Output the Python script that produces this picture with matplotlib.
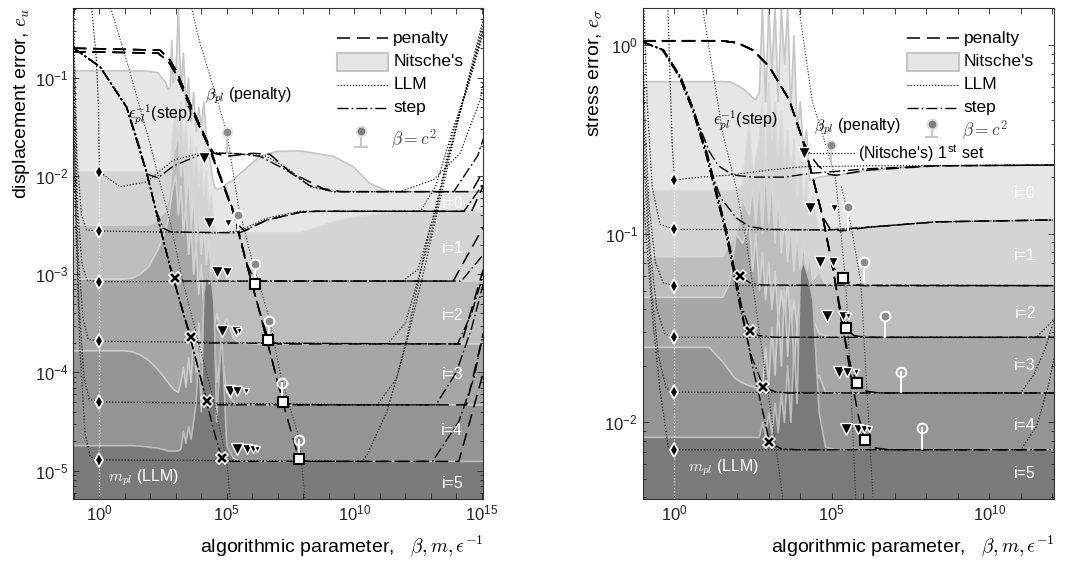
import numpy as np
import matplotlib
matplotlib.use("Agg")
import matplotlib.pyplot as plt
from matplotlib.ticker import FixedLocator, NullFormatter, LogLocator
from matplotlib.patches import Rectangle
from matplotlib.lines import Line2D

plt.rcParams['font.family'] = ['Liberation Sans', 'DejaVu Sans']
plt.rcParams['mathtext.fontset'] = 'cm'

# =====================  DATA (all values are log10)  =====================
# ---------- left panel: displacement error ----------
u_xlim = (-1.02, 15.06)
u_ylim = (-5.288, -0.294)

u_nit_x = [-1.02, 0.0, 1.0, 1.3, 1.6, 1.95, 2.3, 2.6, 2.7, 2.78, 2.84, 2.9, 3.0, 3.1, 3.2, 3.3, 3.4, 3.5,
           3.6, 3.7, 3.8, 3.9, 4.0, 4.1, 4.2, 4.3, 4.4, 4.5, 4.6, 4.8, 5.0, 5.25, 5.5, 6.3, 6.96, 7.9,
           9.18, 9.96, 10.6, 11.27, 11.8, 15.06]
u_nit0 = [-0.93, -0.93, -0.93, -0.93, -0.93, -0.935, -0.95, -1.05, -1.12, -1.1, -0.62, -1.05, -0.98, -0.29,
          -1.1, -0.75, -1.3, -1.0, -1.45, -1.15, -1.55, -1.3, -1.5, -1.25, -1.6, -1.75, -1.95, -2.1, -2.14,
          -2.12, -2.08, -2.04, -1.98, -1.80, -1.75, -1.746, -1.80, -1.906, -2.075, -2.15, -2.16, -2.16]
u_nit1 = [-1.96] * 8 + [-1.93, -1.85, -1.7, -1.5, -1.3, -1.6, -1.25, -1.7, -1.45, -1.9, -1.6, -2.0, -1.7,
                        -2.1, -1.85, -2.2, -1.95, -2.35, -2.2, -2.5,
                        -2.58, -2.58, -2.58, -2.58, -2.58, -2.58, -2.58, -2.58, -2.47, -2.42, -2.40, -2.38,
                        -2.37, -2.36]
u_nit2 = [-2.5, -2.5, -2.5, -2.5, -2.5, -2.5, -2.45, -2.35, -2.25, -2.1, -1.95, -1.8, -1.7, -1.55, -2.0,
          -1.75, -2.3, -1.95, -2.5, -2.2, -2.7, -2.35, -2.8, -2.5, -2.9, -2.65, -3.0, -2.8, -3.03, -2.85,
          -3.05, -3.06, -3.07] + [-3.07] * 9
u_nit3 = [-3.05, -3.05, -3.05, -3.04, -3.0, -2.92, -2.75, -2.55, -2.45, -2.3, -2.2, -2.1, -2.0, -2.4, -2.1,
          -2.6, -2.3, -2.8, -2.5, -3.0, -2.7, -3.2, -2.9, -3.35, -3.1, -3.45, -3.25, -3.55, -3.4, -3.6,
          -3.45, -3.65, -3.70] + [-3.71] * 9
u_nit4 = [-3.78, -3.78, -3.78, -3.79, -3.82, -3.88, -3.97, -4.07, -4.1, -4.13, -4.15, -4.17, -4.19, -4.2,
          -4.1, -3.95, -4.15, -3.85, -4.1, -3.6, -4.0, -3.5, -3.9, -3.3, -3.8, -3.4, -3.95, -3.6, -4.1,
          -3.8, -4.2, -4.3, -4.33] + [-4.33] * 9
u_nit5 = [-4.745, -4.745, -4.745, -4.745, -4.75, -4.76, -4.77, -4.79, -4.8, -4.8, -4.8, -4.8, -4.8, -4.8,
          -4.78, -4.6, -4.72, -4.55, -4.68, -4.5, -4.3, -3.8, -4.4, -3.2, -3.0, -3.1, -3.05, -3.3, -4.5,
          -3.6, -4.75, -4.87, -4.9] + [-4.905] * 9

u_llm_x = [[-0.3, -0.12, -0.03, 0.0, 0.81, 1.86, 2.9, 4.08, 5.25, 6.56, 7.48, 8.26, 9.18, 11.8, 13.1, 14.15, 14.93, 15.06],
           [-1.0, -0.97, -0.88, -0.7, -0.5, 0.0, 4.6, 5.5, 6.56, 7.87, 8.5, 12.6, 13.2, 13.9, 14.5, 15.06],
           [-1.02, -0.96, -0.86, -0.68, -0.48, 0.0, 11.9, 12.5, 13.2, 13.83, 14.47, 15.06],
           [-1.02, -0.94, -0.83, -0.64, -0.44, 0.0, 11.3, 12.0, 12.43, 13.0, 13.6, 14.3, 15.06],
           [-1.02, -0.92, -0.8, -0.6, -0.4, 0.0, 10.9, 11.66, 12.05, 12.8, 13.5, 14.2, 15.06],
           [-1.02, -0.89, -0.76, -0.56, -0.36, 0.0, 10.3, 10.5, 11.28, 12.0, 12.7, 13.4, 14.1, 15.06]]
u_llm_y = [[-0.29, -0.8, -1.3, -1.957, -2.11, -2.06, -1.84, -1.76, -1.77, -1.80, -1.94, -2.11, -2.16, -2.16, -2.04, -1.77, -1.23, -1.05],
           [-0.3, -0.8, -1.8, -2.4, -2.55, -2.56, -2.58, -2.56, -2.43, -2.36, -2.36, -2.36, -2.1, -1.5, -1.05, -0.52],
           [-0.6, -1.3, -2.3, -2.9, -3.06, -3.076, -3.07, -2.95, -2.33, -1.59, -1.08, -0.55],
           [-1.0, -1.8, -2.8, -3.45, -3.66, -3.683, -3.71, -3.5, -3.12, -2.6, -1.9, -1.2, -0.5],
           [-1.3, -2.3, -3.3, -4.05, -4.27, -4.30, -4.33, -4.06, -3.66, -2.72, -2.0, -1.3, -0.45],
           [-1.6, -2.75, -3.77, -4.62, -4.86, -4.89, -4.905, -4.84, -4.4, -3.75, -3.0, -2.2, -1.4, -0.4]]

u_step_x = [[-1.02, -0.89, 0.03, 1.07, 1.6, 1.86, 2.3, 2.9, 4.08, 5.25, 6.3, 7.4, 8.26, 9.18, 13.9, 14.85, 15.06],
            [-1.02, -0.89, 0.03, 1.07, 1.86, 2.2, 2.5, 2.8, 5.5, 6.56, 7.87, 8.5, 14.3, 15.06],
            [-1.02, -0.89, 0.03, 1.07, 1.86, 2.38, 2.77, 2.97, 3.3, 14.2, 15.06],
            [-1.02, -0.89, 0.03, 1.07, 1.86, 2.38, 2.77, 3.1, 3.3, 3.6, 3.9, 14.05, 14.6, 15.06],
            [-1.02, -0.89, 0.03, 1.07, 1.86, 2.38, 2.77, 3.1, 3.3, 3.6, 3.9, 4.21, 4.5, 13.2, 14.0, 14.6, 15.06],
            [-1.02, -0.89, 0.03, 1.07, 1.86, 2.38, 2.77, 3.1, 3.3, 3.6, 3.9, 4.21, 4.5, 4.8, 5.1, 13.07, 14.1, 14.7, 15.06]]
u_step_y = [[-0.70, -0.72, -0.89, -1.30, -1.72, -1.98, -2.02, -1.9, -1.77, -1.77, -1.80, -1.95, -2.10, -2.16, -2.16, -1.79, -1.62],
            [-0.70, -0.72, -0.89, -1.30, -1.97, -2.33, -2.53, -2.57, -2.58, -2.45, -2.37, -2.36, -2.36, -2.08],
            [-0.70, -0.72, -0.89, -1.30, -1.97, -2.52, -2.92, -3.04, -3.07, -3.07, -2.8],
            [-0.70, -0.72, -0.89, -1.30, -1.97, -2.52, -2.92, -3.22, -3.40, -3.64, -3.70, -3.71, -3.4, -3.0],
            [-0.70, -0.72, -0.89, -1.30, -1.97, -2.52, -2.92, -3.22, -3.40, -3.68, -3.98, -4.29, -4.33, -4.33, -4.0, -3.55, -3.1],
            [-0.70, -0.72, -0.89, -1.30, -1.97, -2.52, -2.92, -3.22, -3.40, -3.68, -3.98, -4.30, -4.6, -4.87, -4.905, -4.905, -4.5, -4.05, -3.6]]

u_pen_x = [[-1.02, 2.38, 2.77, 3.04, 3.43, 4.27, 4.5, 5.0, 6.0, 6.69, 7.48, 8.78, 9.5, 14.6, 15.06],
           [-1.02, 2.3, 2.72, 3.0, 3.4, 4.27, 5.25, 5.45, 5.7, 6.56, 7.87, 8.5, 14.6, 15.06],
           [-1.02, 2.38, 2.77, 3.04, 3.43, 4.27, 5.25, 5.78, 6.11, 6.4, 13.88, 15.06],
           [-1.02, 2.3, 2.72, 3.0, 3.4, 4.27, 5.25, 5.78, 6.2, 6.63, 7.0, 14.2, 15.06],
           [-1.02, 2.38, 2.77, 3.04, 3.43, 4.27, 5.25, 5.78, 6.2, 6.7, 7.19, 7.6, 14.4, 15.06],
           [-1.02, 2.3, 2.72, 3.0, 3.4, 4.27, 5.25, 5.78, 6.2, 6.7, 7.25, 7.83, 8.2, 14.1, 15.06]]
u_pen_y = [[-0.70, -0.72, -0.82, -0.94, -1.19, -1.67, -1.77, -1.80, -1.77, -1.78, -1.96, -2.13, -2.16, -2.16, -1.95],
           [-0.735, -0.75, -0.84, -0.96, -1.2, -1.69, -2.35, -2.5, -2.56, -2.45, -2.37, -2.36, -2.36, -2.1],
           [-0.70, -0.72, -0.82, -0.94, -1.19, -1.67, -2.35, -2.89, -3.07, -3.07, -3.07, -2.52],
           [-0.735, -0.75, -0.84, -0.96, -1.2, -1.69, -2.37, -2.9, -3.3, -3.67, -3.71, -3.71, -2.95],
           [-0.70, -0.72, -0.82, -0.94, -1.19, -1.67, -2.35, -2.89, -3.3, -3.8, -4.30, -4.33, -4.33, -3.6],
           [-0.735, -0.75, -0.84, -0.96, -1.2, -1.69, -2.37, -2.9, -3.3, -3.8, -4.35, -4.885, -4.905, -4.905, -4.0]]

u_cline_x = [3.62, 3.95, 4.47, 5.0, 5.45, 5.98, 6.67, 7.15, 7.83, 8.07]
u_cline_y = [-0.294, -0.65, -1.09, -1.556, -2.3, -2.85, -3.45, -4.08, -4.66, -5.288]
u_dline_x = [0.45, 1.2, 2.0, 2.78, 3.3, 3.9, 4.5, 5.0, 5.13]
u_dline_y = [-0.294, -0.94, -1.685, -2.47, -3.1, -3.7, -4.3, -4.9, -5.288]

u_mpl_y = [-1.957, -2.56, -3.076, -3.683, -4.30, -4.89]           # diamonds at m = 1
u_eps_x = [2.97, 3.6, 4.21, 4.8]
u_eps_y = [-3.04, -3.64, -4.29, -4.87]
u_bpl_x = [6.11, 6.63, 7.19, 7.83]
u_bpl_y = [-3.1, -3.67, -4.30, -4.885]
u_c2_x = [5.0, 5.45, 6.11, 6.65, 7.18, 7.83]
u_c2_y = [-1.556, -2.40, -2.90, -3.48, -4.11, -4.69]
u_c2_stem = [-1.77, -2.55, -3.1, -3.67, -4.30, -4.885]
u_tri_x = [[4.11], [4.30, 5.03], [4.6, 5.0], [4.8, 5.35, 5.48], [5.13, 5.41, 5.75], [5.39, 5.78, 6.04, 6.17]]
u_tri_y = [-1.82, -2.48, -2.98, -3.575, -4.19, -4.78]
u_lab_y = [-2.28, -2.74, -3.42, -4.02, -4.59, -5.13]

# ---------- right panel: stress error ----------
s_xlim = (-1.0, 12.06)
s_ylim = (-2.406, 0.195)

s_nit_x = [-1.0, 0.0, 1.0, 1.11, 1.54, 1.75, 1.85, 1.96, 2.17, 2.38, 2.49, 2.59, 2.7, 2.8, 2.9, 3.0, 3.1,
           3.2, 3.3, 3.4, 3.5, 3.6, 3.7, 3.8, 3.9, 4.0, 4.1, 4.2, 4.29, 4.4, 4.6, 4.8, 5.13, 6.19, 8.31, 12.06]
s_nit0 = [-0.194, -0.194, -0.194, -0.194, -0.194, -0.195, -0.2, -0.21, -0.23, -0.26, -0.28, -0.29,
          -0.25, 0.2, -0.3, 0.2, -0.15, 0.2, -0.3, 0.2, -0.1, 0.2, -0.35, 0.05, -0.45, -0.3, -0.55, -0.45,
          -0.715, -0.71, -0.70, -0.695, -0.69, -0.662, -0.64, -0.636]
s_nit1 = [-0.772] * 7 + [-0.77, -0.74, -0.4, -0.7, -0.6, -0.5, -0.3, -0.6, -0.2, -0.5, -0.3, -0.6, -0.35,
                         -0.65, -0.45, -0.7, -0.5, -0.8, -0.6, -0.85, -0.7, -0.9, -0.8,
                         -0.98, -0.98, -0.975, -0.963, -0.936, -0.927]
s_nit2 = [-1.122] * 4 + [-1.12, -1.06, -1.03, -1.0, -0.82, -0.9, -0.75, -0.95, -0.7, -1.0, -0.6, -0.95,
                         -0.7, -1.05, -0.8, -1.1, -0.9, -1.15, -0.95, -1.2, -1.0, -1.2, -1.05, -1.22, -1.1,
                         -1.25, -1.2, -1.27, -1.275, -1.275, -1.275, -1.275]
s_nit3 = [-1.337] * 4 + [-1.337, -1.267, -1.15, -1.0, -1.05, -0.95, -1.2, -1.0, -1.3, -1.1, -1.35, -1.15,
                         -1.4, -1.2, -1.45, -1.3, -1.45, -1.25, -1.5, -1.35, -1.5, -1.3, -1.5, -1.4, -1.52,
                         -1.45, -1.53, -1.54, -1.549, -1.549, -1.549, -1.549]
s_nit4 = [-1.602, -1.602, -1.602, -1.602, -1.68, -1.726, -1.75, -1.77, -1.79, -1.805, -1.81, -1.815, -1.82,
          -1.828, -1.6, -1.8, -1.5, -1.75, -1.4, -1.7, -1.3, -1.65, -1.35, -1.7, -1.5, -1.75, -1.55, -1.8,
          -1.7, -1.82, -1.75, -1.84, -1.844, -1.844, -1.844, -1.844]
s_nit5 = [-2.079] * 11 + [-2.08, -2.08, -2.0, -2.07, -1.95, -2.06, -1.9, -2.05, -1.85, -2.0, -1.7, -2.0,
                          -1.6, -1.9, -1.2, -1.15, -1.2, -1.25, -1.35, -1.95, -2.13,
                          -2.145, -2.145, -2.145, -2.145]

s_llm_x = [[-0.2, -0.14, -0.07, 0.0, 0.8, 1.75, 3.02, 4.08, 6.19, 12.06],
           [-0.96, -0.86, -0.7, -0.45, 0.0, 4.9, 6.19, 8.31, 12.06],
           [-1.0, -0.94, -0.8, -0.6, -0.35, 0.0, 12.06],
           [-1.0, -0.92, -0.76, -0.55, -0.3, 0.0, 11.5, 12.06],
           [-1.0, -0.9, -0.72, -0.5, -0.25, 0.0, 10.99, 11.4, 11.77, 12.06],
           [-1.0, -0.88, -0.67, -0.45, -0.19, 0.0, 11.0, 11.5, 11.88, 12.06]]
s_llm_y = [[0.2, -0.13, -0.5, -0.715, -0.70, -0.689, -0.662, -0.645, -0.64, -0.636],
           [0.2, -0.3, -0.75, -0.95, -0.977, -0.98, -0.965, -0.937, -0.927],
           [0.05, -0.35, -0.85, -1.15, -1.26, -1.275, -1.275],
           [-0.25, -0.6, -1.1, -1.4, -1.53, -1.549, -1.549, -1.45],
           [-0.5, -0.8, -1.3, -1.65, -1.82, -1.84, -1.844, -1.75, -1.61, -1.45],
           [-0.75, -1.03, -1.475, -1.83, -2.13, -2.145, -2.145, -2.02, -1.8, -1.65]]

s_step_x = [[-1.0, -0.37, 0.16, 0.58, 0.85, 1.1, 1.4, 1.87, 2.5, 3.5, 4.3, 5.1, 6.19, 8.31, 12.06],
            [-1.0, -0.34, 0.2, 0.62, 1.04, 1.24, 1.48, 1.98, 2.4, 3.0, 4.9, 6.19, 8.31, 12.06],
            [-1.0, -0.37, 0.16, 0.58, 1.0, 1.32, 1.64, 1.85, 2.09, 2.4, 2.8, 12.06],
            [-1.0, -0.34, 0.2, 0.62, 1.04, 1.36, 1.68, 1.89, 2.13, 2.41, 2.7, 3.2, 12.06],
            [-1.0, -0.37, 0.16, 0.58, 1.0, 1.32, 1.64, 1.85, 2.1, 2.45, 2.83, 3.2, 3.6, 12.06],
            [-1.0, -0.34, 0.2, 0.62, 1.04, 1.36, 1.68, 1.89, 2.14, 2.48, 2.82, 3.02, 3.4, 3.9, 12.06]]
s_step_y = [[0.017, -0.026, -0.168, -0.344, -0.45, -0.56, -0.64, -0.689, -0.70, -0.70, -0.68, -0.67, -0.655, -0.64, -0.636],
            [0.017, -0.026, -0.168, -0.344, -0.574, -0.70, -0.81, -0.918, -0.963, -0.977, -0.98, -0.965, -0.937, -0.927],
            [0.017, -0.026, -0.168, -0.344, -0.574, -0.786, -0.998, -1.175, -1.224, -1.26, -1.272, -1.275],
            [0.017, -0.026, -0.168, -0.344, -0.574, -0.786, -0.998, -1.175, -1.38, -1.514, -1.54, -1.549, -1.549],
            [0.017, -0.026, -0.168, -0.344, -0.574, -0.786, -0.998, -1.175, -1.40, -1.65, -1.81, -1.838, -1.844, -1.844],
            [0.017, -0.026, -0.168, -0.344, -0.574, -0.786, -0.998, -1.175, -1.40, -1.70, -1.95, -2.105, -2.14, -2.145, -2.145]]

s_pen_x = [[-1.0, 1.5, 2.0, 2.49, 3.02, 3.65, 4.08, 4.3, 4.57, 4.91, 5.13, 6.19, 8.31, 12.06],
           [-1.0, 1.5, 2.0, 2.49, 3.02, 3.65, 4.08, 4.39, 4.71, 4.95, 5.3, 6.19, 8.31, 12.06],
           [-1.0, 1.5, 2.0, 2.49, 3.02, 3.65, 4.08, 4.39, 4.71, 5.03, 5.35, 5.6, 6.0, 12.06],
           [-1.0, 1.5, 2.0, 2.49, 3.02, 3.65, 4.08, 4.39, 4.71, 5.05, 5.25, 5.45, 5.7, 6.1, 12.06],
           [-1.0, 1.5, 2.0, 2.49, 3.02, 3.65, 4.08, 4.39, 4.71, 5.05, 5.35, 5.6, 5.8, 6.1, 6.5, 12.06],
           [-1.0, 1.5, 2.0, 2.49, 3.02, 3.65, 4.08, 4.39, 4.71, 5.05, 5.35, 5.6, 5.85, 6.05, 6.35, 6.8, 12.06]]
s_pen_y = [[0.023, 0.023, 0.012, -0.026, -0.115, -0.291, -0.503, -0.58, -0.64, -0.685, -0.69, -0.662, -0.64, -0.636],
           [0.023, 0.023, 0.012, -0.026, -0.115, -0.291, -0.503, -0.698, -0.91, -0.975, -0.985, -0.965, -0.937, -0.927],
           [0.023, 0.023, 0.012, -0.026, -0.115, -0.291, -0.503, -0.698, -0.91, -1.175, -1.236, -1.265, -1.275, -1.275],
           [0.023, 0.023, 0.012, -0.026, -0.115, -0.291, -0.503, -0.698, -0.91, -1.2, -1.38, -1.501, -1.54, -1.549, -1.549],
           [0.023, 0.023, 0.012, -0.026, -0.115, -0.291, -0.503, -0.698, -0.91, -1.2, -1.5, -1.7, -1.791, -1.835, -1.844, -1.844],
           [0.023, 0.023, 0.012, -0.026, -0.115, -0.291, -0.503, -0.698, -0.91, -1.2, -1.5, -1.75, -1.97, -2.092, -2.135, -2.145, -2.145]]

s_dline_x = [0.9, 1.54, 1.96, 2.3, 2.6, 2.9, 3.2, 3.45]
s_dline_y = [0.195, -0.468, -0.751, -1.05, -1.4, -1.75, -2.1, -2.406]
s_cline_x = [3.96, 4.38, 4.81, 5.12, 5.44, 5.6, 5.76]
s_cline_y = [0.195, -0.297, -0.53, -0.71, -1.254, -1.794, -2.406]
s_cline2_x = [5.3, 5.6, 5.92, 6.31]
s_cline2_y = [-0.75, -0.95, -1.254, -2.406]

s_mpl_y = [-0.715, -0.977, -1.275, -1.549, -1.84, -2.145]
s_eps_x = [2.09, 2.41, 2.83, 3.02]
s_eps_y = [-1.224, -1.514, -1.81, -2.105]
s_bpl_x = [5.35, 5.45, 5.8, 6.05]
s_bpl_y = [-1.236, -1.501, -1.791, -2.092]
s_c2_x = [4.97, 5.5, 6.01, 6.69, 7.2, 7.86]
s_c2_y = [-0.53, -0.86, -1.148, -1.438, -1.731, -2.03]
s_c2_stem = [-0.627, -0.98, -1.254, -1.546, -1.84, -2.142]
s_tri_x = [[4.13], [4.32, 5.08], [4.63, 5.03], [4.85, 5.35, 5.52], [5.22, 5.48, 5.77], [5.45, 5.82, 6.03, 6.19]]
s_tri_y = [-0.574, -0.866, -1.148, -1.438, -1.734, -2.035]
s_lab_y = [-0.786, -1.113, -1.422, -1.70, -2.018, -2.273]

tri_sizes = [[9], [9, 5.5], [9, 7], [8.5, 7.5, 5], [8.5, 7, 5], [8.5, 6.5, 5.5, 4]]
levels = ['i=0', 'i=1', 'i=2', 'i=3', 'i=4', 'i=5']

# =====================  STYLE  =====================
SHADES = ['#e6e6e6', '#d4d4d4', '#bdbdbd', '#a6a6a6', '#949494', '#7a7a7a']
EDGES = ['#c6c6c6', '#dadada', '#d6d6d6', '#d2d2d2', '#cbcbcb', '#bdbdbd']
PEN_PAT = (8.5, 4.5)
STEP_PAT = (8, 2.2, 1.2, 2.2)
DOT_LS = (0, (1, 1.6))


def P(a):
    return 10.0 ** np.asarray(a, dtype=float)


fig = plt.figure(figsize=(10.72, 5.68), dpi=100)
fig.patch.set_facecolor('white')
axL = fig.add_axes([73.3 / 1072, 69 / 568, 410 / 1072, 490.7 / 568])
axR = fig.add_axes([642.7 / 1072, 69 / 568, 411.6 / 1072, 490.7 / 568])


def draw_panel(ax, xlim, ylim, nit_x, nits, llm_x, llm_y, step_x, step_y, pen_x, pen_y,
               dlines, mpl_y, eps_x, eps_y, bpl_x, bpl_y, c2_x, c2_y, c2_stem,
               tri_x, tri_y, lab_x, lab_y):
    ax.set_xscale('log')
    ax.set_yscale('log')
    X = P(nit_x)
    for i, c in enumerate(nits):
        ax.fill_between(X, P(c), 1e-12, color=SHADES[i], lw=0, zorder=1 + 0.01 * i)
        ax.plot(X, P(c), color=EDGES[i], lw=1.2, zorder=1.005 + 0.01 * i)
    # vertical m = 1 guide
    ax.plot([1, 1], [P(ylim[0] - 0.1), P(mpl_y[0])], color='#f4f4f4', lw=0.9, ls=DOT_LS, zorder=2)
    for xs, ys in zip(llm_x, llm_y):
        ax.plot(P(xs), P(ys), color='black', lw=0.85, ls=DOT_LS, zorder=3)
    for xs, ys in dlines:
        ax.plot(P(xs), P(ys), color='#303030', lw=0.8, ls=DOT_LS, zorder=3)
    for i, (xs, ys) in enumerate(zip(step_x, step_y)):
        ax.plot(P(xs), P(ys), color='black', lw=1.0, ls=(0.5 * (i % 2), STEP_PAT), zorder=3.2)
    for i, (xs, ys) in enumerate(zip(pen_x, pen_y)):
        ax.plot(P(xs), P(ys), color='black', lw=1.1, ls=(0.5 * (i % 2), PEN_PAT), zorder=3.1)
    # beta = c^2 pins
    for i, (x, y, s) in enumerate(zip(c2_x, c2_y, c2_stem)):
        ax.plot([P(x), P(x)], [P(y), P(s)], color='#c8c8c8' if i == 0 else 'white', lw=1.5, zorder=4)
        ax.plot([P(x)], [P(y)], ls='none', marker='o', ms=7,
                mfc='#8a8a8a' if i < 4 else 'none', mec='#e6e6e6' if i == 0 else 'white', mew=1.4, zorder=5)
    # Nitsche triangles
    for i, xs in enumerate(tri_x):
        for x, sz in zip(xs, tri_sizes[i]):
            ax.plot([P(x)], [P(tri_y[i])], ls='none', marker='v', ms=sz, mfc='black', mec='white',
                    mew=1.0, zorder=6)
    ax.plot(np.ones(len(mpl_y)), P(mpl_y), ls='none', marker='d', ms=7.5, mfc='black', mec='white',
            mew=1.3, zorder=6)
    ax.plot(P(eps_x), P(eps_y), ls='none', marker='X', ms=8.5, mfc='black', mec='white', mew=1.1, zorder=6)
    ax.plot(P(bpl_x), P(bpl_y), ls='none', marker='s', ms=6.5, mfc='white', mec='black', mew=1.5, zorder=6)
    for t, y in zip(levels, lab_y):
        ax.text(P(lab_x), P(y), t, color='white', fontsize=11.5, ha='right', va='center', zorder=7)

    ax.set_xlim(P(xlim[0]), P(xlim[1]))
    ax.set_ylim(P(ylim[0]), P(ylim[1]))
    ax.tick_params(which='both', direction='in', top=True, right=True, labelsize=12,
                   colors='#222222', width=0.6)
    ax.tick_params(which='major', length=4.5)
    ax.tick_params(axis='y', which='minor', length=2.5)
    ax.tick_params(axis='x', which='minor', length=4.5)
    for sp in ax.spines.values():
        sp.set_linewidth(0.8)
        sp.set_color('#333333')
    ax.yaxis.set_major_locator(LogLocator(base=10, numticks=20))
    ax.yaxis.set_minor_locator(LogLocator(base=10, subs=np.arange(2, 10), numticks=50))
    ax.yaxis.set_minor_formatter(NullFormatter())


def legend(ax, cy, by, ty):
    tr = ax.transAxes
    x0, x1, xt = 0.6424, 0.7683, 0.7805
    rows = [0.9389, 0.8912, 0.8437, 0.7972]
    ax.add_artist(Line2D([x0, x1], [rows[0]] * 2, transform=tr, color='black', lw=1.1, ls=(0, PEN_PAT), zorder=8))
    ax.add_artist(Rectangle((x0, rows[1] - 0.018), x1 - x0, 0.036, transform=tr, fc='#e6e6e6',
                            ec='#c6c6c6', lw=1.5, zorder=8))
    ax.add_artist(Line2D([x0, x1], [rows[2]] * 2, transform=tr, color='black', lw=0.85, ls=DOT_LS, zorder=8))
    ax.add_artist(Line2D([x0, x1], [rows[3]] * 2, transform=tr, color='black', lw=1.0, ls=(0, STEP_PAT), zorder=8))
    for t, y in zip(['penalty', "Nitsche's", 'LLM', 'step'], rows):
        ax.text(xt, y, t, transform=tr, fontsize=12.5, ha='left', va='center', zorder=8)
    px = 0.702
    ax.add_artist(Line2D([px, px], [cy, by], transform=tr, color='#c8c8c8', lw=1.5, zorder=8))
    ax.add_artist(Line2D([px - 0.014, px + 0.014], [by, by], transform=tr, color='#c8c8c8', lw=1.5, zorder=8))
    ax.add_artist(Line2D([px], [cy], transform=tr, marker='o', ms=7, mfc='#7f7f7f', mec='#dddddd',
                         mew=1.4, zorder=9))
    ax.text(xt - 0.005, ty, r'$\beta = c^2$', transform=tr, fontsize=12.5, ha='left', va='center',
            color='#444444', zorder=8)


# ---------- left ----------
draw_panel(axL, u_xlim, u_ylim, u_nit_x, [u_nit0, u_nit1, u_nit2, u_nit3, u_nit4, u_nit5],
           u_llm_x, u_llm_y, u_step_x, u_step_y, u_pen_x, u_pen_y,
           [(u_cline_x, u_cline_y), (u_dline_x, u_dline_y)],
           u_mpl_y, u_eps_x, u_eps_y, u_bpl_x, u_bpl_y, u_c2_x, u_c2_y, u_c2_stem,
           u_tri_x, u_tri_y, 14.27, u_lab_y)
axL.xaxis.set_major_locator(FixedLocator(P([0, 5, 10, 15])))
axL.xaxis.set_minor_locator(FixedLocator(P(np.arange(-1, 16))))
axL.xaxis.set_minor_formatter(NullFormatter())
axL.text(P(4.15), P(-1.18), r'$\beta_{pl}$ (penalty)', fontsize=11.5, ha='left', va='center', zorder=7)
axL.text(P(1.14), P(-1.38), r'$\epsilon_{pl}^{-1}$(step)', fontsize=11.5, ha='left', va='center', zorder=7)
axL.text(P(0.35), P(-5.07), r'$m_{pl}$ (LLM)', fontsize=11.5, ha='left', va='center', color='white', zorder=7)
axL.set_ylabel('displacement error, $e_u$', fontsize=14, loc='top', labelpad=2)
axL.set_xlabel(r'algorithmic parameter,   $\beta, m, \epsilon^{-1}$', fontsize=14, loc='right', labelpad=7)
legend(axL, 0.750, 0.718, 0.733)

# ---------- right ----------
draw_panel(axR, s_xlim, s_ylim, s_nit_x, [s_nit0, s_nit1, s_nit2, s_nit3, s_nit4, s_nit5],
           s_llm_x, s_llm_y, s_step_x, s_step_y, s_pen_x, s_pen_y,
           [(s_dline_x, s_dline_y), (s_cline_x, s_cline_y), (s_cline2_x, s_cline2_y)],
           s_mpl_y, s_eps_x, s_eps_y, s_bpl_x, s_bpl_y, s_c2_x, s_c2_y, s_c2_stem,
           s_tri_x, s_tri_y, 11.48, s_lab_y)
axR.xaxis.set_major_locator(FixedLocator(P([0, 5, 10])))
axR.xaxis.set_minor_locator(FixedLocator(P(np.arange(-1, 13))))
axR.xaxis.set_minor_formatter(NullFormatter())
axR.plot(P([4.2, 5.75]), P([s_tri_y[0], s_tri_y[0]]), color='black', lw=0.85, ls=DOT_LS, zorder=3)
axR.text(P(1.22), P(-0.40), r'$\epsilon_{pl}^{-1}$(step)', fontsize=11.5, ha='left', va='center', zorder=7)
axR.text(P(4.44), P(-0.43), r'$\beta_{pl}$ (penalty)', fontsize=11.5, ha='left', va='center', zorder=7)
axR.text(P(5.82), P(-0.574), r"(Nitsche's) 1$^{\mathdefault{st}}$ set", fontsize=11.5, ha='left',
         va='center', zorder=7)
axR.text(P(0.43), P(-2.238), r'$m_{pl}$ (LLM)', fontsize=11.5, ha='left', va='center', color='white', zorder=7)
axR.set_ylabel(r'stress error, $e_\sigma$', fontsize=14, loc='top', labelpad=0)
axR.set_xlabel(r'algorithmic parameter,   $\beta, m, \epsilon^{-1}$', fontsize=14, loc='right', labelpad=7)
legend(axR, 0.764, 0.737, 0.752)

fig.savefig('out.png', dpi=100, facecolor='white')
